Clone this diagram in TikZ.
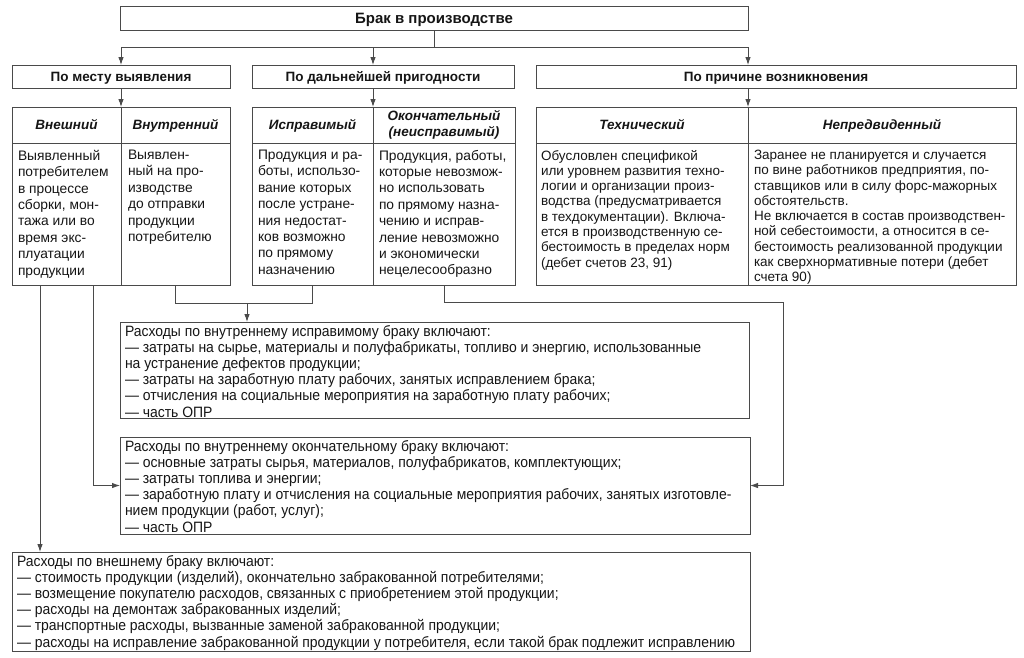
\documentclass[tikz,border=0pt]{standalone}
\usepackage{fontspec}
\setmainfont{Liberation Sans}
\newfontfamily\narrowfont[FakeStretch=0.93]{Liberation Sans}
\usetikzlibrary{arrows.meta,calc}
\definecolor{lc}{HTML}{4A4A4A}
\definecolor{tc}{HTML}{151515}
\begin{document}
\begin{tikzpicture}[x=1pt,y=-1pt,
  every node/.style={inner sep=0pt, outer sep=0pt, text=tc},
  ln/.style={draw=lc, line width=0.9pt},
  arr/.style={ln, -{Latex[length=8pt,width=5.5pt]}},
  box/.style={draw=lc, line width=0.9pt, anchor=north west},
  topfont/.style={font=\fontsize{15}{18}\selectfont\bfseries, text height=10.8pt, text depth=0pt},
  catfont/.style={font=\fontsize{13.5}{16}\selectfont\bfseries, text height=9.7pt, text depth=0pt},
  hdrfont/.style={font=\fontsize{13.5}{16}\selectfont\bfseries\itshape, text height=9.7pt, text depth=0pt},
  hdrfontb/.style={font=\fontsize{13.5}{16}\selectfont\bfseries\itshape, align=center},
  bodytxt/.style={anchor=north west, align=left, font=\fontsize{13.8}{16.4}\selectfont},
  bodytxtb/.style={anchor=north west, align=left, font=\fontsize{13.5}{15.3}\selectfont},
  costtxt/.style={anchor=north west, align=left, font=\narrowfont\fontsize{15}{16.2}\selectfont}
]
\useasboundingbox (0,0) rectangle (1024,657);

% top
\node[box, minimum width=628, minimum height=24, topfont] (top) at (120,6) {Брак в производстве};

% categories
\node[box, minimum width=218, minimum height=23, catfont] (k1) at (12,65) {По месту выявления};
\node[box, minimum width=262, minimum height=23, catfont] (k2) at (252,65) {По дальнейшей пригодности};
\node[box, minimum width=480, minimum height=23, catfont] (k3) at (536,65) {По причине возникновения};

% header cells
\node[box, minimum width=109, minimum height=36, hdrfont] (h1) at (12,107) {Внешний};
\node[box, minimum width=109, minimum height=36, hdrfont] (h2) at (121,107) {Внутренний};
\node[box, minimum width=121, minimum height=36, hdrfont] (h3) at (252,107) {Исправимый};
\node[box, minimum width=142, minimum height=36, hdrfontb] (h4) at (373,107) {Окончательный\\(неисправимый)};
\node[box, minimum width=212, minimum height=36, hdrfont] (h5) at (536,107) {Технический};
\node[box, minimum width=268, minimum height=36, hdrfont] (h6) at (748,107) {Непредвиденный};

% body cells
\node[box, minimum width=109, minimum height=142] (c1) at (12,143) {};
\node[box, minimum width=109, minimum height=142] (c2) at (121,143) {};
\node[box, minimum width=121, minimum height=142] (c3) at (252,143) {};
\node[box, minimum width=142, minimum height=142] (c4) at (373,143) {};
\node[box, minimum width=212, minimum height=142] (c5) at (536,143) {};
\node[box, minimum width=268, minimum height=142] (c6) at (748,143) {};

\node[bodytxt] (t1) at ($(c1.north west)+(6,7)$) {Выявленный\\потребителем\\в процессе\\сборки, мон-\\тажа или во\\время экс-\\плуатации\\продукции};
\node[bodytxt] (t2) at ($(c2.north west)+(7,7)$) {Выявлен-\\ный на про-\\изводстве\\до отправки\\продукции\\потребителю};
\node[bodytxt] (t3) at ($(c3.north west)+(6,7)$) {Продукция и ра-\\боты, использо-\\вание которых\\после устране-\\ния недостат-\\ков возможно\\по прямому\\назначению};
\node[bodytxt] (t4) at ($(c4.north west)+(6,7)$) {Продукция, работы,\\которые невозмож-\\но использовать\\по прямому назна-\\чению и исправ-\\ление невозможно\\и экономически\\нецелесообразно};
\node[bodytxtb] (t5) at ($(c5.north west)+(5,7)$) {Обусловлен спецификой\\или уровнем развития техно-\\логии и организации произ-\\водства (предусматривается\\в техдокументации). Включа-\\ется в производственную се-\\бестоимость в пределах норм\\(дебет счетов 23, 91)};
\node[bodytxtb] (t6) at ($(c6.north west)+(6,7)$) {Заранее не планируется и случается\\по вине работников предприятия, по-\\ставщиков или в силу форс-мажорных\\обстоятельств.\\Не включается в состав производствен-\\ной себестоимости, а относится в се-\\бестоимость реализованной продукции\\как сверхнормативные потери (дебет\\счета 90)};

% cost boxes
\node[box, minimum width=629, minimum height=96] (ra) at (120,322) {};
\node[box, minimum width=630, minimum height=97] (rb) at (120,437) {};
\node[box, minimum width=738, minimum height=99] (rc) at (12,552) {};

\node[costtxt] (ta) at ($(ra.north west)+(5,3)$) {Расходы по внутреннему исправимому браку включают:\\
— затраты на сырье, материалы и полуфабрикаты, топливо и энергию, использованные\\
на устранение дефектов продукции;\\
— затраты на заработную плату рабочих, занятых исправлением брака;\\
— отчисления на социальные мероприятия на заработную плату рабочих;\\
— часть ОПР};
\node[costtxt] (tb) at ($(rb.north west)+(5,3)$) {Расходы по внутреннему окончательному браку включают:\\
— основные затраты сырья, материалов, полуфабрикатов, комплектующих;\\
— затраты топлива и энергии;\\
— заработную плату и отчисления на социальные мероприятия рабочих, занятых изготовле-\\
нием продукции (работ, услуг);\\
— часть ОПР};
\node[costtxt] (tc) at ($(rc.north west)+(5,3)$) {Расходы по внешнему браку включают:\\
— стоимость продукции (изделий), окончательно забракованной потребителями;\\
— возмещение покупателю расходов, связанных с приобретением этой продукции;\\
— расходы на демонтаж забракованных изделий;\\
— транспортные расходы, вызванные заменой забракованной продукции;\\
— расходы на исправление забракованной продукции у потребителя, если такой брак подлежит исправлению};

% connectors: top -> categories
\draw[ln] (top.south) -- ++(0,17) coordinate (j0);
\draw[ln] (h1.north east |- j0) -- (h5.north east |- j0);
\draw[arr] (h1.north east |- j0) -- (k1.north);
\draw[arr] (h3.north east |- j0) -- (h3.north east |- k2.north);
\draw[arr] (h5.north east |- j0) -- (h5.north east |- k3.north);

% categories -> groups
\draw[arr] (k1.south) -- (h1.north east);
\draw[arr] (h3.north east |- k2.south) -- (h3.north east);
\draw[arr] (h5.north east |- k3.south) -- (h5.north east);

% groups -> cost boxes
\draw[arr] ([xshift=28]c1.south west) -- ([xshift=28]c1.south west |- rc.north);
\draw[arr] ([xshift=81]c1.south west) |- (rb.west);
\draw[ln] (c2.south) -- ++(0,18) coordinate (ja) -| (c3.south);
\coordinate (jb) at (247,303);
\draw[arr] (jb) -- (jb |- ra.north);
\coordinate (rr) at (783,302);
\draw[arr] (c4.south) |- (rr) |- (rb.east);
\end{tikzpicture}
\end{document}
